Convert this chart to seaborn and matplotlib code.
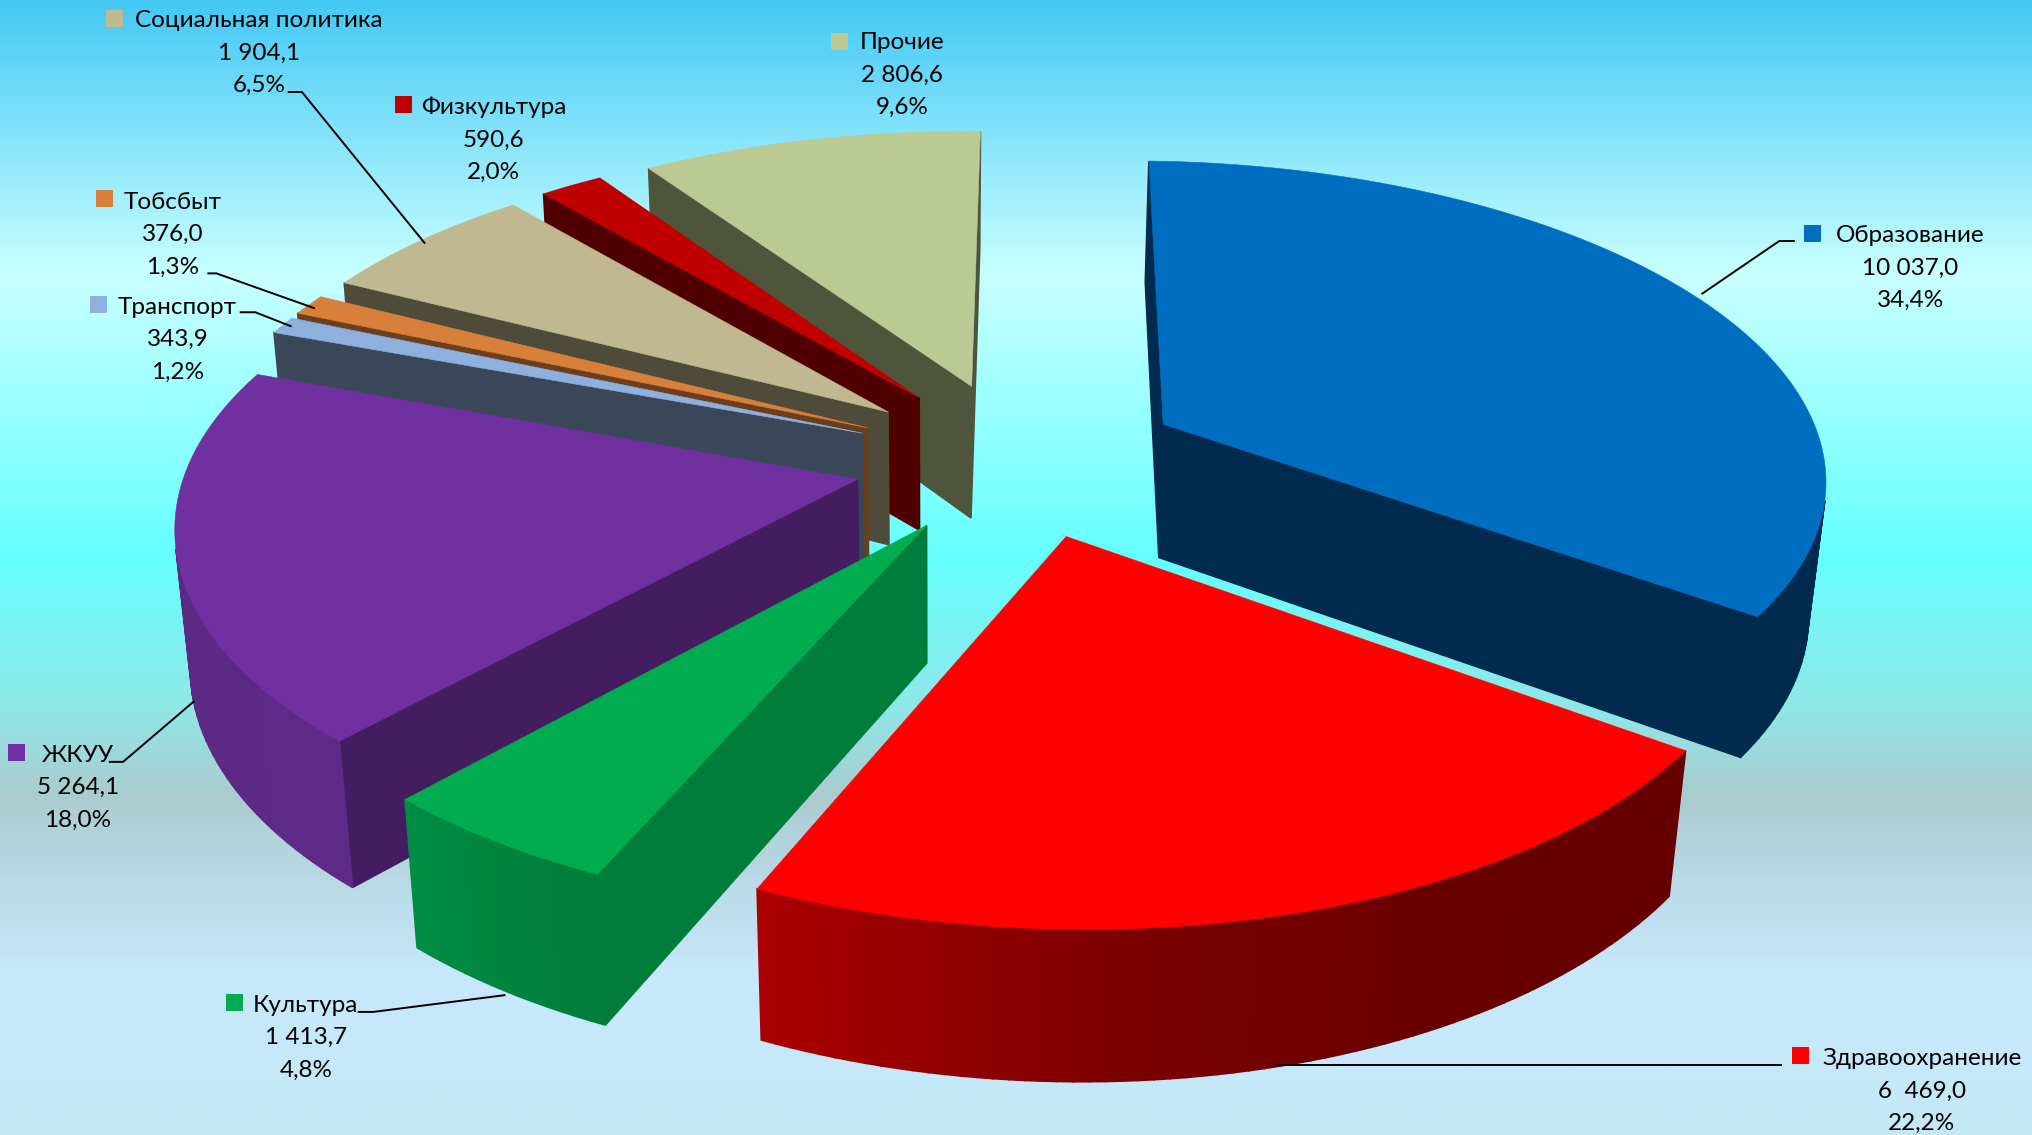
import numpy as np
import pandas as pd
import matplotlib
matplotlib.use('Agg')
import matplotlib.pyplot as plt
import seaborn as sns
from matplotlib.colors import LinearSegmentedColormap
from matplotlib.patches import Polygon

names = ['Образование', 'Здравоохранение', 'Культура', 'ЖКУУ', 'Транспорт',
         'Тобсбыт', 'Социальная политика', 'Физкультура', 'Прочие']
values = [10037.0, 6469.0, 1413.7, 5264.1, 343.9, 376.0, 1904.1, 590.6, 2806.6]
value_labels = ['10 037,0', '6  469,0', '1 413,7', '5 264,1', '343,9',
                '376,0', '1 904,1', '590,6', '2 806,6']
pct_labels = ['34,4%', '22,2%', '4,8%', '18,0%', '1,2%', '1,3%', '6,5%', '2,0%', '9,6%']

top_colors = ['#006EC0', '#FF0000', '#00AC4F', '#7030A0', '#8EB0DE',
              '#D77F3B', '#BFB890', '#C00000', '#BBCA92']
side_stops = [['#002B4F', '#002B4F'],
              ['#660000', '#680000', '#7C0000', '#AA0000'],
              ['#007D3B', '#008C42'],
              ['#5E2A88', '#5A2780'],
              ['#394759', '#394759'],
              ['#6B3F1D', '#6B3F1D'],
              ['#4F4B3A', '#4F4B3A'],
              ['#500000', '#500000'],
              ['#4F553B', '#4F553B']]
cut_colors = ['#002B4F', '#660000', '#007D3B', '#431D60', '#394759',
              '#6B3F1D', '#4F4B3A', '#500000', '#4F553B']

# label layout: block centre x, y of the first line, marker position
label_x = [1474, 1483, 236, 60, 137, 133, 200, 381, 696]
label_y = [182, 817, 776, 583, 237, 156, 16, 83, 33]
marker_xy = [(1399, 180), (1389, 815), (181, 774), (13, 581), (76, 235),
             (81, 153), (88, 14), (311, 81), (648, 32)]
leaders = [[(1313, 227), (1373, 186), (1385, 186)],
           [(985, 822), (1375, 822)],
           [(390, 768), (288, 781), (276, 781)],
           [(150, 541), (95, 588), (84, 588)],
           [(225, 252), (197, 241), (185, 241)],
           [(243, 238), (167, 211), (160, 211)],
           [(328, 188), (233, 71), (222, 71)]]

bg_stops = [(0.0, '#45C9F5'), (0.24, '#C8FFFF'), (0.49, '#66FFFF'),
            (0.62, '#8FE8E8'), (0.70, '#AACCD0'), (0.86, '#C8E8FC'), (1.0, '#C5E8F8')]

sns.set_theme(style='white')
plt.rcParams['font.family'] = ['Lato', 'Noto Sans', 'DejaVu Sans']

df = pd.DataFrame({'name': names, 'value': values})
df['share'] = df['value'] / df['value'].sum()
df['end'] = df['share'].cumsum() * 2 * np.pi
df['start'] = df['end'] - df['share'] * 2 * np.pi
df['mid'] = (df['start'] + df['end']) / 2

# perspective of the pie
CX, CY = 786, 354
A, B, C = 513, 240, 106
KX, KY = 0.14, 0.145
EXPLODE = 0.25
TILT = 0.012
# the reference's 3D view bends the angles a little
warp_deg = [0, 60, 124, 165, 204, 221, 286, 290, 295, 305, 318, 325, 345, 360]
warp_off = [0, 0.3, 0.8, 0.5, -0.3, 0.4, 3.0, 2.0, 1.2, 0.8, 0.6, -0.2, 0, 0]


def project(u, v, bottom=False):
    shift = 0.02 if bottom else 0
    wx = 1 + KX * v + shift
    wy = 1 + KY * v + shift
    x = A * u / wx
    y = -B * v / wy + (C / wy if bottom else 0)
    return np.column_stack([CX + x - TILT * y, CY + y + TILT * x])


def area(poly):
    x, y = poly[:, 0], poly[:, 1]
    return 0.5 * np.sum(x * np.roll(y, -1) - np.roll(x, -1) * y)


fig = plt.figure(figsize=(20.32, 11.35), dpi=100)
ax = fig.add_axes([0, 0, 1, 1])
cmap = LinearSegmentedColormap.from_list('bg', bg_stops)
ax.imshow(np.linspace(0, 1, 600).reshape(-1, 1), cmap=cmap, aspect='auto',
          extent=[0, 1568, 876, 0], zorder=0)

# far slices first
order = df['mid'].apply(np.cos).sort_values(ascending=False).index
z = 1
for i in order:
    row = df.loc[i]
    n = max(int(row['share'] * 300), 6)
    ang = np.linspace(row['start'], row['end'], n + 1)
    ang = ang + np.radians(np.interp(np.degrees(ang), warp_deg, warp_off))
    ex_u, ex_v = EXPLODE * np.sin(row['mid']), EXPLODE * np.cos(row['mid'])
    u = np.concatenate([[ex_u], ex_u + np.sin(ang)])
    v = np.concatenate([[ex_v], ex_v + np.cos(ang)])
    top = project(u, v)
    bot = project(u, v, bottom=True)
    shades = sns.blend_palette(side_stops[i], n)
    m = len(u)
    for j in range(m):
        k = (j + 1) % m
        quad = np.array([top[j], top[k], bot[k], bot[j]])
        if area(quad) >= 0:
            continue
        is_cut = j == 0 or j == m - 1
        col = cut_colors[i] if is_cut else shades[j - 1]
        ax.add_patch(Polygon(quad, closed=True, fc=col, ec=col, lw=1.2, zorder=z))
    z += 1
    ax.add_patch(Polygon(top, closed=True, fc=top_colors[i], ec=top_colors[i], lw=0.4, zorder=z))
    z += 1

for pts in leaders:
    xs, ys = zip(*pts)
    ax.plot(xs, ys, color='black', lw=1.4, zorder=z, solid_capstyle='butt')

mx, my = zip(*marker_xy)
ax.scatter(mx, my, marker='s', s=150, c=top_colors, linewidths=0, zorder=z)
for i in range(len(names)):
    for line, txt in enumerate([names[i], value_labels[i], pct_labels[i]]):
        ax.text(label_x[i], label_y[i] + line * 25, txt, ha='center', va='center',
                fontsize=17.5, color='black', zorder=z + 1)

ax.set_xlim(0, 1568)
ax.set_ylim(876, 0)
ax.axis('off')
fig.savefig('out.png', dpi=100)
